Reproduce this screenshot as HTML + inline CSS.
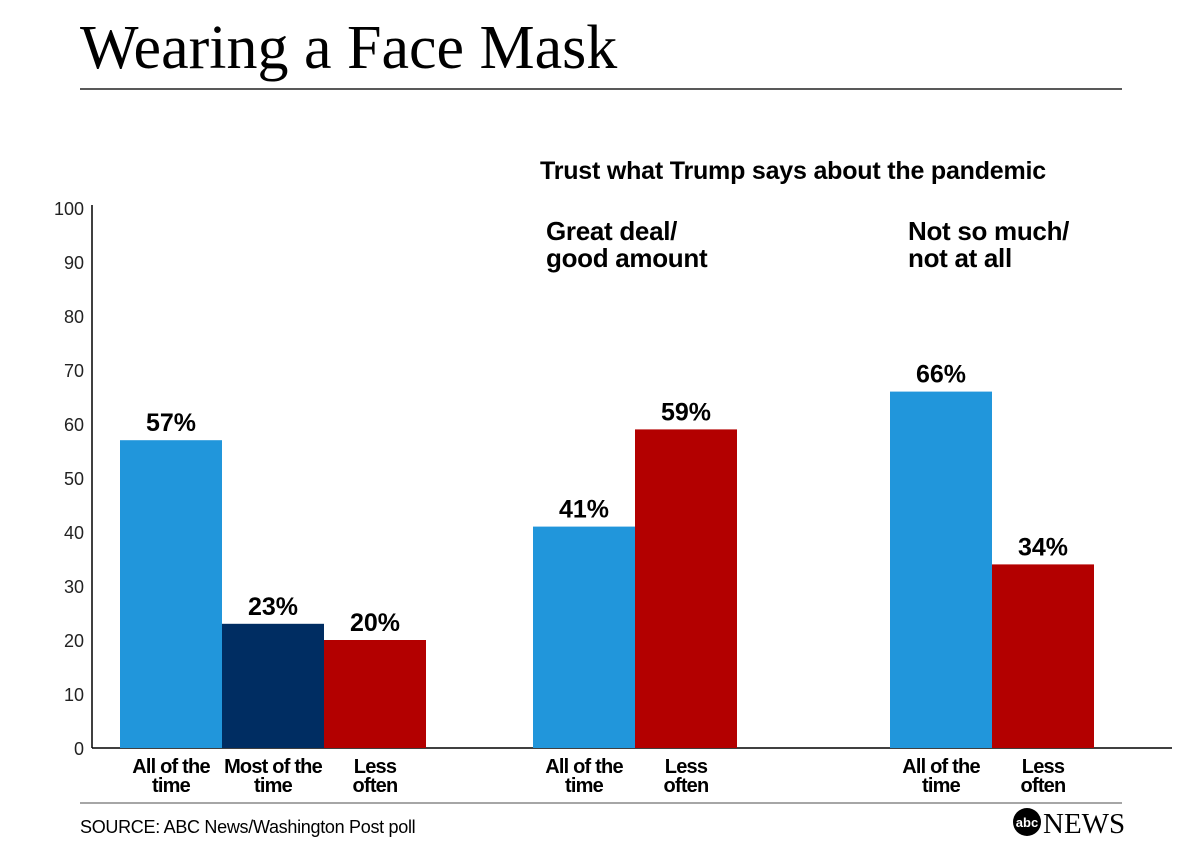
<!DOCTYPE html>
<html><head><meta charset="utf-8"><style>
body{margin:0;background:#fff;}
svg{display:block;font-family:"Liberation Sans",sans-serif;}
</style></head><body>
<svg id="chart" width="1200" height="848" viewBox="0 0 1200 848">
<text x="80" y="68" font-family="Liberation Serif,serif" font-size="62" fill="#000">Wearing a Face Mask</text>
<line x1="80" y1="89" x2="1122" y2="89" stroke="#222" stroke-width="1.5"/>
<text x="540" y="179" font-size="25" font-weight="bold" letter-spacing="-0.2">Trust what Trump says about the pandemic</text>
<text font-size="26" font-weight="bold" letter-spacing="-0.3"><tspan x="546" y="240">Great deal/</tspan><tspan x="546" y="267">good amount</tspan></text>
<text font-size="26" font-weight="bold" letter-spacing="-0.3"><tspan x="908" y="240">Not so much/</tspan><tspan x="908" y="267">not at all</tspan></text>
<g id="axis"></g>
<g id="bars"></g>
<line x1="80" y1="803" x2="1122" y2="803" stroke="#888" stroke-width="1.5"/>
<text x="80" y="833" font-size="18" letter-spacing="-0.3">SOURCE: ABC News/Washington Post poll</text>
<g>
<circle cx="1027" cy="822" r="14" fill="#000"/>
<text x="1027" y="827" font-size="13" font-weight="bold" fill="#fff" text-anchor="middle">abc</text>
<text x="1043" y="833" font-family="Liberation Serif,serif" font-size="29" fill="#000">NEWS</text>
</g>
</svg>
<script>
const ticks=[0,10,20,30,40,50,60,70,80,90,100];
const categories=["All of the|time","Most of the|time","Less|often","All of the|time","Less|often","All of the|time","Less|often"];
const values=[57,23,20,41,59,66,34];
const labels=["57%","23%","20%","41%","59%","66%","34%"];
const colors=["#2196db","#002d62","#b30000","#2196db","#b30000","#2196db","#b30000"];
const barX=[120,222,324,533,635,890,992];
const NS="http://www.w3.org/2000/svg";
const y=v=>748-v*5.4;
const ax=document.getElementById('axis'),bg=document.getElementById('bars');
function mk(tag,attrs,parent){const e=document.createElementNS(NS,tag);for(const k in attrs)e.setAttribute(k,attrs[k]);parent.appendChild(e);return e;}
let l=mk('line',{x1:92,y1:205,x2:92,y2:748,stroke:'#000','stroke-width':1.5},ax);


l=mk('line',{x1:92,y1:748,x2:1172,y2:748,stroke:'#000','stroke-width':1.5},ax);


ticks.forEach(t=>{const e=mk('text',{x:84,y:y(t)+7,'font-size':18,'text-anchor':'end',fill:'#222'},ax);e.textContent=t;

});
values.forEach((v,i)=>{const x=barX[i];
const r=mk('rect',{x:x,y:y(v),width:102,height:v*5.4,fill:colors[i]},bg);


const t=mk('text',{x:x+51,y:y(v)-9,'font-size':25,'font-weight':'bold','text-anchor':'middle'},bg);t.textContent=labels[i];


const c=mk('text',{'font-size':20,'font-weight':'bold','text-anchor':'middle','letter-spacing':'-0.8'},bg);


categories[i].split('|').forEach((s,j)=>{const ts=mk('tspan',{x:x+51,y:773+j*19},c);ts.textContent=s;});
});
</script>
</body></html>
